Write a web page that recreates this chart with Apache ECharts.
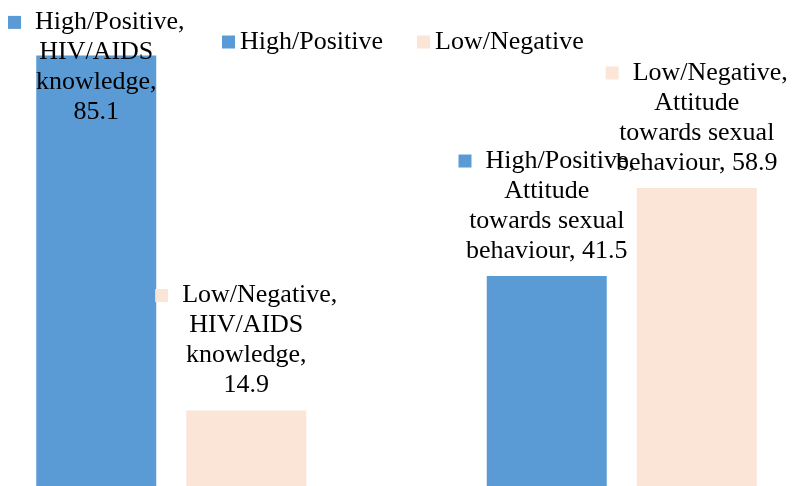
<!DOCTYPE html>
<html>
<head>
<meta charset="utf-8">
<script src="https://cdn.jsdelivr.net/npm/echarts@6/dist/echarts.min.js"></script>
<style>
  html, body { margin: 0; padding: 0; background: #fff; }
  #main { width: 799px; height: 486px; }
</style>
</head>
<body>
<div id="main"></div>
<script>
// data
var categories = ['HIV/AIDS knowledge', 'Attitude towards sexual behaviour'];
var seriesNames = ['High/Positive', 'Low/Negative'];
var highValues = [85.1, 41.5];
var lowValues = [14.9, 58.9];
// how the category name wraps inside the data label
var labelText = ['HIV/AIDS\nknowledge,\n', 'Attitude\ntowards sexual\nbehaviour, '];

var colors = ['#5B9BD5', '#FBE5D6'];
var font = '"Liberation Serif", "Times New Roman", serif';

var chartDom = document.getElementById('main');
var myChart = echarts.init(chartDom);

function makeLabel(color) {
  return {
    show: true,
    position: 'top',
    distance: 10,
    align: 'center',
    color: '#000',
    fontFamily: font,
    fontSize: 26,
    lineHeight: 30,
    formatter: function (p) {
      return '{sq|}{gap|}' + p.seriesName + ',\n' + labelText[p.dataIndex] + p.value;
    },
    rich: {
      sq: { width: 13, height: 13, backgroundColor: color, verticalAlign: 'middle' },
      gap: { width: 14 }
    }
  };
}

function toData(values, firstOffset) {
  return values.map(function (v, i) {
    if (i === 0 && firstOffset) {
      return { value: v, label: { offset: [0, firstOffset] } };
    }
    return v;
  });
}

var option = {
  animation: false,
  backgroundColor: '#fff',
  legend: {
    data: seriesNames,
    left: 217,
    top: 24,
    icon: 'rect',
    itemWidth: 13,
    itemHeight: 13,
    itemGap: 34,
    textStyle: { fontFamily: font, fontSize: 26, color: '#000' }
  },
  grid: {
    left: -54,
    right: -48,
    top: -20,
    bottom: 0,
    outerBoundsMode: 'none'
  },
  xAxis: {
    type: 'category',
    data: categories,
    show: false
  },
  yAxis: {
    type: 'value',
    min: 0,
    max: 100,
    show: false
  },
  series: [
    {
      name: seriesNames[0],
      type: 'bar',
      barWidth: 120,
      barGap: '25%',
      itemStyle: { color: colors[0] },
      label: makeLabel(colors[0]),
      data: toData(highValues, 82)
    },
    {
      name: seriesNames[1],
      type: 'bar',
      barWidth: 120,
      itemStyle: { color: colors[1] },
      label: makeLabel(colors[1]),
      data: toData(lowValues, 0)
    }
  ]
};
option && myChart.setOption(option);
</script>
</body>
</html>
